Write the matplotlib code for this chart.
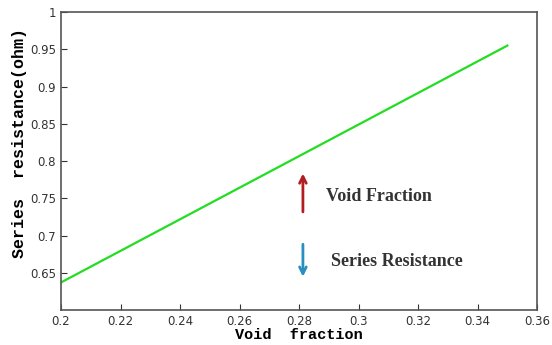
import matplotlib
matplotlib.use("Agg")
import matplotlib.pyplot as plt

# data
void_fraction = [0.2, 0.35]
series_res = [0.637, 0.955]

x_ticks = [0.2, 0.22, 0.24, 0.26, 0.28, 0.3, 0.32, 0.34, 0.36]
x_tick_labels = ['0.2', '0.22', '0.24', '0.26', '0.28', '0.3', '0.32', '0.34', '0.36']
y_ticks = [0.65, 0.7, 0.75, 0.8, 0.85, 0.9, 0.95, 1.0]
y_tick_labels = ['0.65', '0.7', '0.75', '0.8', '0.85', '0.9', '0.95', '1']

fig = plt.figure(figsize=(5.52, 3.45), dpi=100)
ax = fig.add_axes([0.1105, 0.1014, 0.8625, 0.8636])

ax.plot(void_fraction, series_res, color='#22dd22', linewidth=1.6)

ax.set_xlim(0.2, 0.36)
ax.set_ylim(0.6, 1.0)
ax.set_xticks(x_ticks)
ax.set_xticklabels(x_tick_labels)
ax.set_yticks(y_ticks)
ax.set_yticklabels(y_tick_labels)
ax.tick_params(direction='in', labelsize=8.5, length=4, colors='#333333')
for s in ax.spines.values():
    s.set_color('#555555')
    s.set_linewidth(1.2)

ax.set_xlabel('Void  fraction', family='Liberation Mono', weight='bold', fontsize=11, labelpad=0)
ax.set_ylabel('Series  resistance(ohm)', family='Liberation Mono', weight='bold', fontsize=12)
ax.yaxis.set_label_coords(-0.072, 0.56)

# arrow annotations
ax.annotate('', xy=(0.2813, 0.787), xytext=(0.2813, 0.728),
            arrowprops=dict(arrowstyle='->', color='#b01e22', lw=2, mutation_scale=12))
ax.annotate('', xy=(0.2813, 0.641), xytext=(0.2813, 0.692),
            arrowprops=dict(arrowstyle='->', color='#2a8fc0', lw=2, mutation_scale=12))
ax.text(0.289, 0.752, 'Void Fraction', family='Liberation Serif', weight='bold',
        fontsize=13, color='#333333', va='center')
ax.text(0.2908, 0.665, 'Series Resistance', family='Liberation Serif', weight='bold',
        fontsize=13, color='#333333', va='center')

fig.savefig('out.png', dpi=100)
